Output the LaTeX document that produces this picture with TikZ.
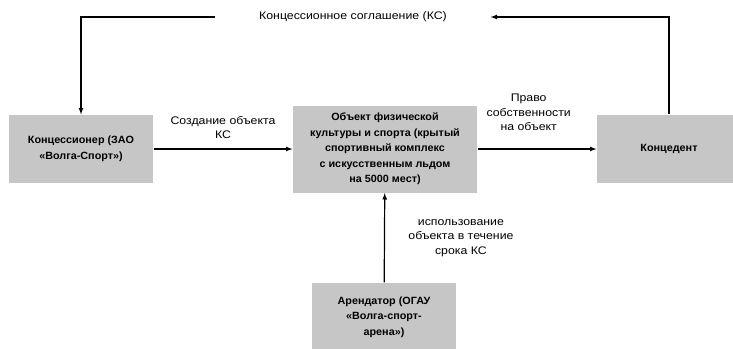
\documentclass[tikz,border=0pt]{standalone}
\usepackage{fontspec}
\setmainfont{Liberation Sans}[FakeStretch=1.12]
\newfontfamily\boxfont{Liberation Sans}[FakeStretch=1.03]
\definecolor{boxgray}{RGB}{198,198,198}
\begin{document}
\begin{tikzpicture}[>=latex, line width=1.2pt, x=1pt, y=-1pt,
        box/.style={fill=boxgray, minimum width=144pt, minimum height=68pt, align=center,
            font=\boxfont\bfseries\fontsize{10.5}{15.5}\selectfont},
        lbl/.style={align=center, font=\fontsize{11}{14.5}\selectfont}]
        \useasboundingbox (0,0) rectangle (733,348);
        \node[box] (konc) at (81,149) {Концессионер (ЗАО\\«Волга-Спорт»)};
        \node[box, minimum width=184pt, minimum height=87pt] (obj) at (385,149)
            {Объект физической\\культуры и спорта (крытый\\спортивный комплекс\\с искусственным льдом\\на 5000 мест)};
        \node[box] (kdent) at (669,149) {Концедент};
        \node[box] (arend) at (384,317) {Арендатор (ОГАУ\\«Волга-спорт-\\арена»)};
        \node[lbl, minimum width=274pt] (ks) at (353,17) {Концессионное соглашение (КС)};
        % верхняя петля
        \draw [->] (ks.west) -| (konc.north);
        \draw [->] (kdent.north) |- (ks.east);
        \draw [->] (konc) -- node[lbl, above=6pt] {Создание объекта\\КС} (obj);
        \draw [->] (obj) -- node[lbl, above=14pt, pos=0.43] {Право\\собственности\\на объект} (kdent);
        \draw [->] (arend) -- node[lbl, right=20pt] {использование\\объекта в течение\\срока КС} (obj);
    \end{tikzpicture}
\end{document}
